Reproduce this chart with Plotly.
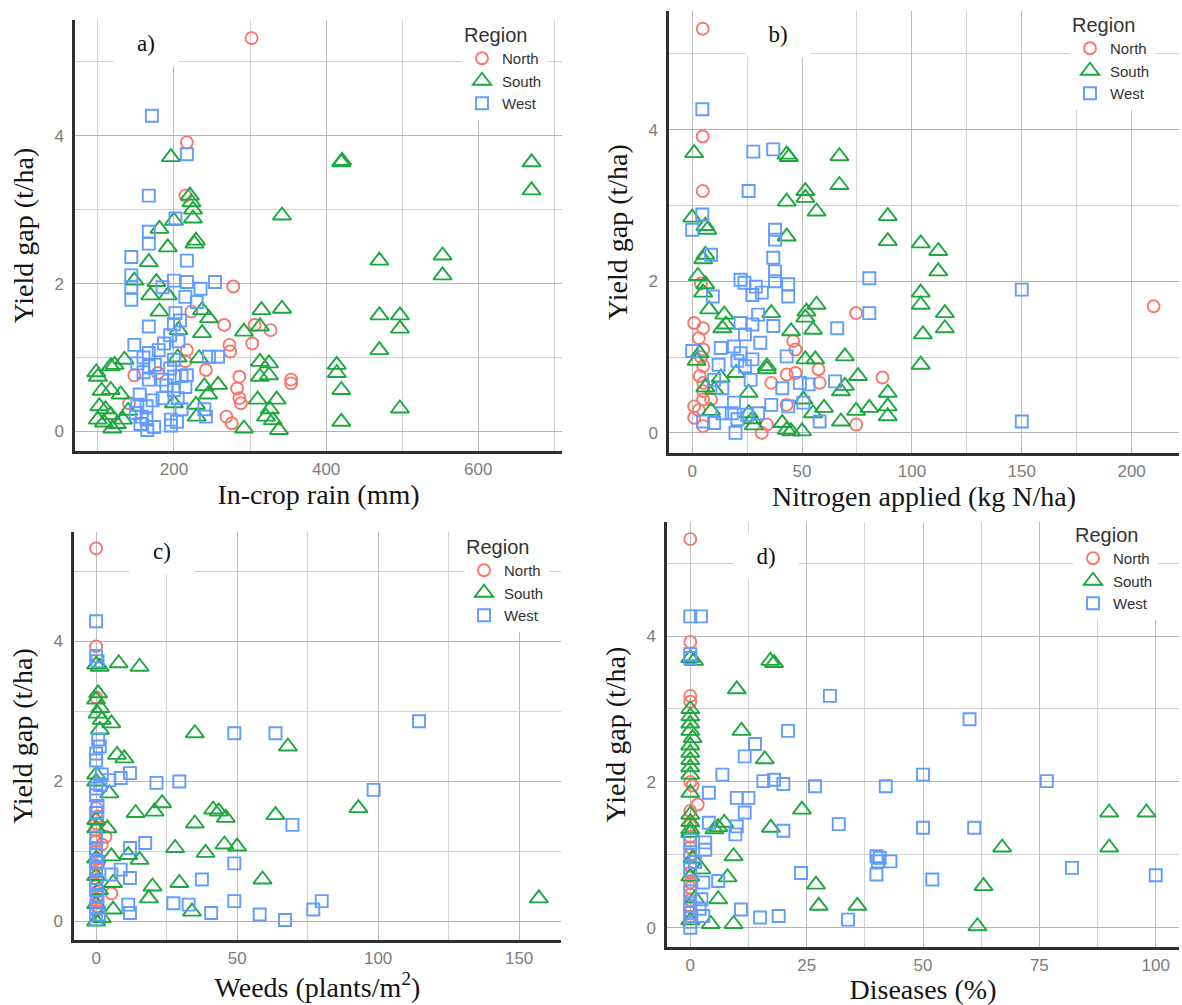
import plotly.graph_objects as go

W, H = 1182, 1005

# ---------------- data (x, yield gap t/ha) ----------------
REGIONS = ["North", "South", "West"]

# a) In-crop rain (mm)
A_NORTH = [(302, 5.32), (217, 3.91), (215, 3.19), (278, 1.96), (223, 1.62), (266, 1.44), (306, 1.44),
           (327, 1.37), (303, 1.19), (273, 1.17), (274, 1.08), (217, 1.10), (242, 0.83), (286, 0.74),
           (354, 0.70), (354, 0.65), (283, 0.58), (286, 0.45), (288, 0.38), (148, 0.76), (179, 0.79),
           (141, 0.38), (269, 0.20), (276, 0.11), (215, 0.95)]
A_SOUTH = [(196, 3.71), (221, 3.19), (223, 3.10), (225, 3.00), (225, 2.88), (227, 2.54), (229, 2.58),
           (181, 2.74), (200, 2.85), (192, 2.49), (167, 2.29), (148, 2.04), (177, 2.02), (169, 1.84),
           (192, 1.84), (181, 1.62), (206, 1.37), (237, 1.64), (246, 1.53), (237, 1.33), (315, 1.64),
           (342, 1.66), (292, 1.35), (313, 1.42), (233, 0.99), (135, 0.97), (117, 0.88), (100, 0.74),
           (117, 0.56), (102, 0.34), (117, 0.22), (100, 0.16), (133, 0.16), (119, 0.04), (313, 0.94),
           (325, 0.92), (313, 0.74), (325, 0.76), (258, 0.63), (240, 0.61), (310, 0.43), (335, 0.43),
           (229, 0.36), (292, 0.04), (321, 0.20), (338, 0.02), (200, 0.38), (205, 1.00), (245, 0.50),
           (122, 0.90), (110, 0.30), (130, 0.50), (420, 3.64), (421, 3.66), (670, 3.64), (670, 3.26),
           (342, 2.92), (553, 2.38), (553, 2.11), (470, 2.31), (470, 1.57), (497, 1.57), (497, 1.39),
           (470, 1.10), (414, 0.90), (414, 0.79), (420, 0.56), (420, 0.13), (497, 0.31), (330, 0.15),
           (326, 0.30), (108, 0.12), (125, 0.10), (140, 0.28), (105, 0.55), (98, 0.80), (230, 0.20)]
A_WEST = [(171, 4.27), (217, 3.75), (167, 3.19), (202, 2.88), (167, 2.70), (167, 2.54), (144, 2.36),
          (217, 2.31), (144, 2.11), (144, 1.95), (144, 1.78), (200, 2.04), (217, 2.02), (235, 1.93),
          (254, 2.02), (215, 1.82), (167, 1.42), (202, 1.60), (148, 1.17), (167, 1.06), (167, 0.88),
          (167, 0.70), (187, 1.19), (200, 0.97), (200, 0.74), (217, 0.76), (200, 0.56), (164, 0.34),
          (164, 0.16), (165, 0.02), (196, 0.16), (204, 0.13), (246, 1.01), (258, 1.01), (242, 0.20),
          (208, 1.50), (195, 1.30), (185, 0.45), (210, 0.30), (155, 0.50), (175, 0.90), (195, 0.85),
          (150, 0.25), (240, 0.30), (230, 1.75), (185, 1.95), (200, 1.45), (160, 1.00), (205, 0.45),
          (152, 0.36), (158, 0.20), (172, 0.42), (174, 0.06), (190, 0.62), (196, 0.08), (210, 0.75),
          (215, 0.60), (180, 1.10), (152, 0.92), (160, 0.80), (185, 0.70), (156, 0.10), (206, 1.22)]

# b) Nitrogen applied (kg N/ha)
B_NORTH = [(4.8, 5.33), (4.8, 3.91), (4.8, 3.19), (4, 1.97), (210, 1.67), (74.6, 1.58), (86.6, 0.73),
           (74.6, 0.11), (31.7, 0.0), (34, 0.11), (46, 1.21), (47, 1.10), (57.5, 0.84), (43, 0.77),
           (47, 0.79), (43, 0.37), (36, 0.66), (58, 0.66), (0.9, 1.45), (5, 1.38), (0.9, 0.35),
           (0.9, 0.20), (5, 1.10), (5, 0.88), (5, 0.66), (5, 0.44), (3.4, 0.75), (8.6, 0.44), (5, 0.09),
           (3, 1.25), (4, 1.00), (5, 0.55), (3, 0.30)]
B_SOUTH = [(0.9, 3.69), (67, 3.65), (43, 3.67), (44, 3.64), (67, 3.27), (51.5, 3.19), (51.5, 3.10),
           (43, 3.05), (56.6, 2.92), (89, 2.86), (89, 2.53), (43, 2.59), (104, 2.50), (112, 2.40),
           (112, 2.13), (104, 1.85), (104, 1.69), (115, 1.58), (115, 1.38), (105, 1.30), (104, 0.90),
           (0, 2.84), (6, 2.73), (6.9, 2.68), (6, 2.35), (5, 2.29), (2.6, 2.07), (6, 1.96), (5, 1.85),
           (7.7, 1.63), (14.6, 1.56), (15.4, 1.43), (13.7, 1.38), (36, 1.58), (56.6, 1.69), (52, 1.60),
           (51.5, 1.52), (55, 1.36), (45, 1.34), (51.5, 0.97), (56, 0.97), (69.5, 1.01), (75.5, 0.75),
           (69.5, 0.62), (67.7, 0.55), (89, 0.53), (89, 0.35), (89, 0.22), (80.6, 0.33), (74.6, 0.29),
           (67.7, 0.15), (60, 0.33), (55, 0.26), (50.6, 0.44), (43, 0.04), (50, 0.02), (34, 0.88),
           (34, 0.84), (25.7, 0.53), (25.7, 0.26), (27.4, 0.18), (20, 0.79), (13, 0.73), (8.6, 0.29),
           (3.4, 1.05), (10, 0.57), (41, 0.13), (2, 0.95), (6, 0.60), (28, 0.10), (45, 0.02)]
B_WEST = [(4.6, 4.27), (27.8, 3.71), (36.9, 3.74), (25.7, 3.19), (4.6, 2.88), (0, 2.68), (37.7, 2.68),
          (37.7, 2.55), (8.6, 2.35), (36.9, 2.31), (37.7, 2.13), (37.7, 2.00), (43.7, 1.96), (43.7, 1.80),
          (80.6, 2.04), (22, 2.02), (23.8, 1.98), (29, 1.93), (27.4, 1.82), (31.7, 1.85), (9.4, 1.80),
          (80.6, 1.58), (150, 1.89), (150, 0.15), (66, 1.38), (36.9, 1.41), (30, 1.56), (22, 1.45),
          (27.4, 1.43), (24, 1.30), (31, 1.19), (13, 1.12), (0, 1.08), (19, 1.14), (22, 1.05),
          (27.4, 0.97), (20.6, 0.95), (43, 1.01), (65, 0.68), (49, 0.66), (53, 0.64), (41, 0.59),
          (26.6, 0.70), (24, 0.88), (12, 0.90), (10, 0.70), (13.7, 0.59), (19, 0.40), (18, 0.26),
          (20.6, 0.18), (19.7, 0.0), (25, 0.24), (30, 0.26), (36, 0.37), (43.7, 0.35), (50.6, 0.40),
          (58, 0.15), (10, 0.13), (5, 0.15), (13.7, 0.26)]

# c) Weeds (plants/m2)
C_NORTH = [(0, 5.33), (0, 3.93), (0, 3.20), (0, 1.62), (0.5, 1.50), (0, 1.30), (3.3, 1.21), (0, 1.15),
           (2, 1.10), (0, 1.00), (0.5, 0.90), (0, 0.80), (0, 0.70), (0.5, 0.60), (0, 0.50), (5.4, 0.40),
           (0, 0.42), (0, 0.30), (0.5, 0.22), (0, 0.15), (0, 1.40), (1, 0.85)]
C_SOUTH = [(0, 3.67), (1.3, 3.64), (8, 3.69), (15.4, 3.64), (0.7, 3.26), (0, 3.17), (1.5, 3.05),
           (0.5, 2.97), (2, 2.88), (5.4, 2.83), (1.3, 2.74), (35, 2.69), (68, 2.50), (7.4, 2.38),
           (10, 2.33), (0, 2.10), (0, 2.00), (4.7, 1.83), (23.4, 1.69), (20.7, 1.57), (14, 1.55),
           (41.5, 1.60), (43.5, 1.57), (46, 1.48), (63.6, 1.52), (93, 1.62), (35, 1.40), (4, 1.33),
           (0, 1.33), (28, 1.05), (45.5, 1.10), (50, 1.07), (38.8, 0.98), (11.4, 0.95), (15.4, 0.88),
           (5.4, 0.93), (59, 0.60), (20, 0.50), (29.5, 0.55), (18.7, 0.33), (157, 0.33), (34, 0.14),
           (6, 0.17), (0, 0.0), (0, 0.90), (0, 0.65), (1, 0.45), (0, 0.25), (2, 0.05), (0, 1.45),
           (6, 0.55)]
C_WEST = [(0, 4.29), (0, 3.79), (0.5, 3.72), (114.5, 2.86), (49, 2.69), (63.6, 2.69), (0.7, 2.60),
          (1.3, 2.50), (0, 2.40), (0, 2.30), (12, 2.12), (8.7, 2.05), (4.7, 2.02), (21.4, 1.98),
          (29.5, 2.00), (98.4, 1.88), (0, 1.90), (0, 1.80), (0.5, 1.65), (0, 1.55), (69.6, 1.38),
          (17.4, 1.12), (12, 1.05), (49, 0.83), (8.7, 0.74), (5.4, 0.67), (12, 0.62), (37.5, 0.60),
          (49, 0.29), (27.4, 0.26), (32.8, 0.24), (11.4, 0.24), (12, 0.12), (40.8, 0.12), (58, 0.10),
          (67, 0.02), (77, 0.17), (80, 0.29), (0, 1.20), (0, 1.05), (0, 0.95), (0.5, 0.85), (0, 0.75),
          (0, 0.55), (0, 0.45), (0.5, 0.35), (0, 0.20), (1, 0.10), (0, 0.03), (2, 2.10), (1.5, 1.95)]

# d) Diseases (%)
D_NORTH = [(0, 5.33), (0, 3.92), (0, 3.18), (0, 3.10), (1.6, 1.69), (0, 1.60), (0, 1.40), (0, 1.25),
           (0, 1.10), (0, 1.00), (0, 0.85), (0, 0.75), (0, 0.62), (0, 0.55), (0, 0.45), (0, 0.38),
           (0, 0.30), (0, 0.22), (0, 0.15), (0.5, 1.95), (0, 2.00)]
D_SOUTH = [(17.2, 3.66), (18, 3.63), (0.8, 3.66), (0, 3.70), (10, 3.27), (11, 2.70), (16, 2.31),
           (24, 1.62), (90, 1.58), (98, 1.58), (7.3, 1.44), (5.2, 1.35), (6, 1.38), (17.3, 1.37),
           (67, 1.10), (90, 1.10), (9.3, 0.98), (2.4, 0.80), (8, 0.69), (27, 0.59), (63, 0.57),
           (6, 0.39), (27.6, 0.30), (35.9, 0.30), (4.4, 0.05), (9.3, 0.05), (61.7, 0.02), (0, 3.00),
           (0, 2.90), (0, 2.80), (0, 2.70), (0.5, 2.60), (0, 2.50), (0, 2.40), (0, 2.30), (0, 2.20),
           (0, 2.10), (0, 1.85), (0, 1.55), (0, 1.45), (0, 1.35), (0, 1.30), (0.5, 0.95), (0, 0.70),
           (1, 0.40), (0, 0.10)]
D_WEST = [(0, 4.27), (2.3, 4.27), (0, 3.75), (0, 3.70), (30, 3.18), (60, 2.86), (21, 2.70), (13.9, 2.52),
          (11.7, 2.35), (6.9, 2.10), (15.7, 2.01), (18, 2.03), (20, 1.97), (26.8, 1.94), (42, 1.94),
          (50, 2.10), (76.6, 2.01), (4, 1.85), (10, 1.78), (12.5, 1.78), (11.7, 1.58), (4, 1.44),
          (10, 1.39), (9.7, 1.28), (20, 1.33), (31.9, 1.42), (50, 1.37), (61, 1.37), (3.2, 1.17),
          (3.2, 1.07), (40, 0.98), (40.7, 0.96), (43, 0.91), (40.3, 0.91), (82, 0.82), (23.8, 0.75),
          (40, 0.73), (52, 0.66), (100, 0.72), (2.8, 0.62), (6, 0.64), (10.9, 0.25), (15, 0.14),
          (19, 0.16), (33.9, 0.11), (2.4, 0.39), (2.8, 0.16), (0, 0.0), (0, 1.20), (0, 1.00), (0, 0.80),
          (0, 0.50), (0, 0.30), (0, 0.20), (0, 0.08), (1, 0.90), (2, 0.26)]

X_TITLES = ["In-crop rain (mm)", "Nitrogen applied (kg N/ha)", "Weeds (plants/m<sup>2</sup>)", "Diseases (%)"]
Y_TITLE = "Yield gap (t/ha)"
PANEL_LABELS = ["a)", "b)", "c)", "d)"]
X_RANGES = [[70, 710], [-10.55, 221.55], [-7.85, 164.85], [-5, 105]]
X_DTICK = [200, 50, 50, 25]
Y_RANGE = [-0.265, 5.565]
LEGEND_TITLE = "Region"

DATA = [(A_NORTH, A_SOUTH, A_WEST), (B_NORTH, B_SOUTH, B_WEST),
        (C_NORTH, C_SOUTH, C_WEST), (D_NORTH, D_SOUTH, D_WEST)]

# ---------------- style / layout ----------------
COLORS = {"North": "#F8766D", "South": "#1CA83E", "West": "#619CFF"}
SYMBOLS = {"North": "circle-open", "South": "triangle-up-open", "West": "square-open"}
SIZES = {"North": 12, "South": 16, "West": 12}


def px(x):
    return x / W


def py(y):
    return 1 - y / H


# panel pixel boxes: (left, right, top, bottom)
BOXES = [(75, 562, 20, 451), (669, 1179, 11, 453), (74, 561, 532, 940), (667, 1179, 522, 947)]
LEG_POS = [(462, 16), (1070, 6), (464, 528), (1073, 516)]
LABEL_POS = [(146, 43), (778, 34), (162, 551), (766, 556)]

fig = go.Figure()
for i, (panel, box) in enumerate(zip(DATA, BOXES)):
    sfx = "" if i == 0 else str(i + 1)
    for reg, pts in zip(REGIONS, panel):
        xs = [p[0] for p in pts]
        ys = [p[1] for p in pts]
        fig.add_trace(go.Scatter(
            x=xs, y=ys, mode="markers", name=reg,
            xaxis="x" + sfx, yaxis="y" + sfx, legend="legend" + sfx,
            marker=dict(symbol=SYMBOLS[reg], size=SIZES[reg], color=COLORS[reg],
                        line=dict(width=1.9, color=COLORS[reg])),
            hoverinfo="x+y+name",
        ))

tickfont = dict(family="Liberation Sans, Arial, sans-serif", size=17, color="#7d7d7d")
titlefont = dict(family="Liberation Serif, Times New Roman, serif", size=28, color="#151515")

layout = dict(
    width=W, height=H, margin=dict(l=0, r=0, t=0, b=0),
    paper_bgcolor="white", plot_bgcolor="white", showlegend=True,
    annotations=[],
)
for i, box in enumerate(BOXES):
    sfx = "" if i == 0 else str(i + 1)
    l, r, t, b = box
    layout["xaxis" + sfx] = dict(
        domain=[px(l), px(r)], anchor="y" + sfx, range=X_RANGES[i],
        tick0=0, dtick=X_DTICK[i], showline=True, linecolor="#2f2f2f", linewidth=2.5,
        showgrid=True, gridcolor="#bcbcbc", gridwidth=1.2, zeroline=False, ticks="",
        tickfont=tickfont, ticklabelstandoff=1, automargin=False,
        minor=dict(dtick=X_DTICK[i] / 2, showgrid=True, gridcolor="#d3d3d3", gridwidth=1),
        title=dict(text=X_TITLES[i], font=titlefont, standoff=5),
    )
    layout["yaxis" + sfx] = dict(
        domain=[py(b), py(t)], anchor="x" + sfx, range=Y_RANGE,
        tick0=0, dtick=2, showline=True, linecolor="#2f2f2f", linewidth=2.5,
        showgrid=True, gridcolor="#b4b4b4", gridwidth=1.2, zeroline=False, ticks="",
        tickfont=tickfont, ticklabelstandoff=5, automargin=False,
        minor=dict(dtick=1, showgrid=True, gridcolor="#d3d3d3", gridwidth=1),
        title=dict(text=Y_TITLE, font=titlefont, standoff=13),
    )
    lx, ly = LEG_POS[i]
    layout["legend" + sfx] = dict(
        x=px(lx), y=py(ly), xanchor="left", yanchor="top", bgcolor="white", borderwidth=0,
        font=dict(family="Liberation Sans, Arial, sans-serif", size=15, color="#333333"),
        title=dict(text=LEGEND_TITLE, font=dict(family="Liberation Sans, Arial, sans-serif",
                                                size=20, color="#333333")),
        tracegroupgap=0,
    )
    cx, cy = LABEL_POS[i]
    layout["annotations"].append(dict(
        text=PANEL_LABELS[i], xref="paper", yref="paper", x=px(cx), y=py(cy),
        xanchor="center", yanchor="middle", showarrow=False, bgcolor="white",
        width=62, height=44,
        font=dict(family="Liberation Serif, Times New Roman, serif", size=23, color="#111111"),
    ))

fig.update_layout(**layout)
fig.write_html("out.html", config={"displayModeBar": False},
               post_script="document.body.style.margin='0';")
